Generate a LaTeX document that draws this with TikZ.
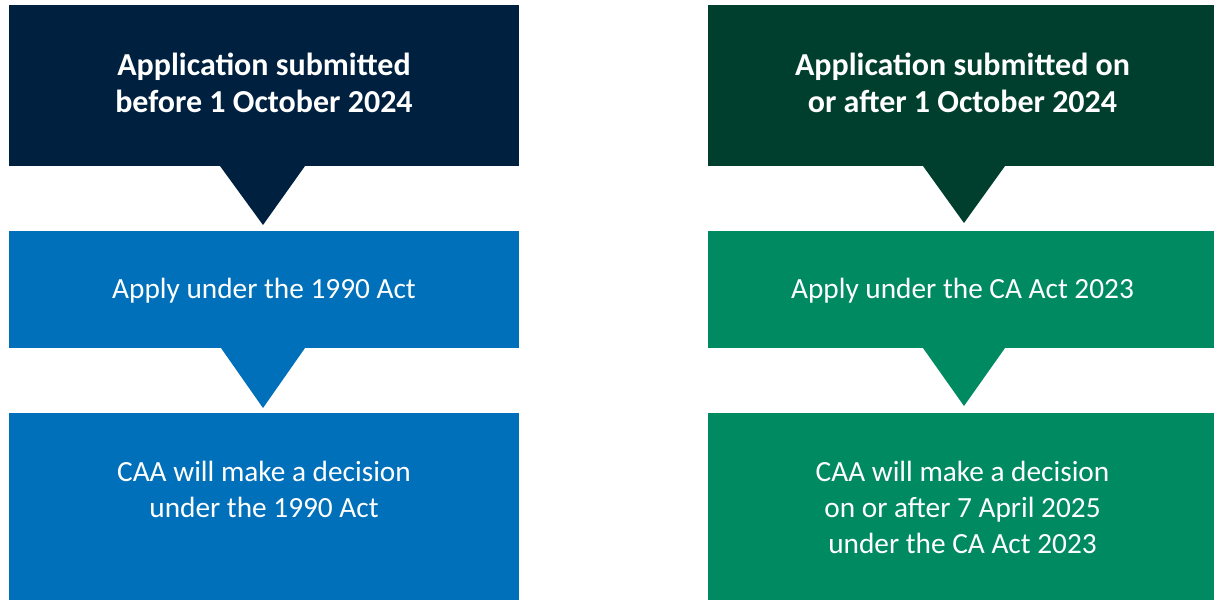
\documentclass[tikz,border=0pt]{standalone}
\usepackage{fontspec}
\setmainfont{Carlito}
\definecolor{navy}{HTML}{00203F}
\definecolor{midblue}{HTML}{0070BA}
\definecolor{darkgreen}{HTML}{003F2E}
\definecolor{midgreen}{HTML}{008A62}
\begin{document}
\begin{tikzpicture}[x=1pt,y=-1pt,
  box/.style={anchor=north west, inner sep=0pt, outer sep=0pt, draw=none},
  titletext/.style={anchor=north, inner sep=0pt, align=center, text=white, font=\fontsize{32}{37}\selectfont\bfseries},
  bodytext/.style={anchor=north, inner sep=0pt, align=center, text=white, font=\fontsize{29.3}{36}\selectfont}]
\useasboundingbox (0,0) rectangle (1214,600);
% left column
\node[box, fill=navy, minimum width=510pt, minimum height=161pt] (L1) at (9,5) {};
\node[box, fill=midblue, minimum width=510pt, minimum height=117pt] (L2) at (9,231) {};
\node[box, fill=midblue, minimum width=510pt, minimum height=187pt] (L3) at (9,413) {};
% right column
\node[box, fill=darkgreen, minimum width=506pt, minimum height=161pt] (R1) at (708,5) {};
\node[box, fill=midgreen, minimum width=506pt, minimum height=117pt] (R2) at (708,231) {};
\node[box, fill=midgreen, minimum width=506pt, minimum height=187pt] (R3) at (708,413) {};
% triangles
\fill[navy] ([xshift=-44pt]L1.south) -- ([xshift=41pt]L1.south) -- ([xshift=-1pt,yshift=-59pt]L1.south) -- cycle;
\fill[midblue] ([xshift=-43pt]L2.south) -- ([xshift=41pt]L2.south) -- ([xshift=-1pt,yshift=-60pt]L2.south) -- cycle;
\fill[darkgreen] ([xshift=-38pt]R1.south) -- ([xshift=44pt]R1.south) -- ([xshift=3pt,yshift=-57pt]R1.south) -- cycle;
\fill[midgreen] ([xshift=-38pt]R2.south) -- ([xshift=44pt]R2.south) -- ([xshift=3pt,yshift=-58pt]R2.south) -- cycle;
% texts
\node[titletext] (tL1) at (264,51.5) {\rule{0pt}{24pt}Application submitted\\before 1 October 2024};
\node[titletext] (tR1) at (962.5,51.5) {\rule{0pt}{24pt}Application submitted on\\or after 1 October 2024};
\node[bodytext] (tL2) at (264,274.2) {\rule{0pt}{24pt}Apply under the 1990 Act};
\node[bodytext] (tR2) at (962.5,274.2) {\rule{0pt}{24pt}Apply under the CA Act 2023};
\node[bodytext] (tL3) at (264,457.5) {\rule{0pt}{24pt}CAA will make a decision\\under the 1990 Act};
\node[bodytext] (tR3) at (962.5,457.5) {\rule{0pt}{24pt}CAA will make a decision\\on or after 7 April 2025\\under the CA Act 2023};
\end{tikzpicture}
\end{document}
